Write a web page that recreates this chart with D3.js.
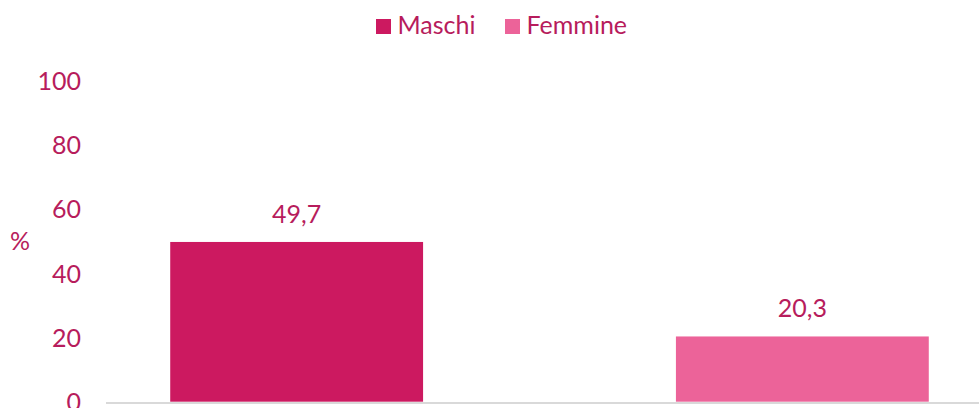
<!DOCTYPE html>
<html>
<head>
<meta charset="utf-8">
<script src="https://cdn.jsdelivr.net/npm/d3@7"></script>
<style>
  html, body { margin: 0; padding: 0; background: #ffffff; }
  svg { display: block; }
  text { font-family: Lato, "Open Sans", sans-serif; }
</style>
</head>
<body>
<svg id="chart" width="979" height="408"></svg>
<script>
const series = ["Maschi", "Femmine"];
const values = [49.7, 20.3];
const valueLabels = ["49,7", "20,3"];
const colors = ["#CC1960", "#EC6399"];
const yTicks = [0, 20, 40, 60, 80, 100];
const yTitle = "%";

const W = 979, H = 408;
const textColor = "#B71C5C";
const fontSize = 25;

const svg = d3.select("#chart");

const y = d3.scaleLinear().domain([0, 100]).range([401.7, 80.3]);
const x = d3.scaleBand().domain(series).range([106, 993])
  .paddingInner(0.5).paddingOuter(0.127);

// Y axis (labels only)
const yAxis = d3.axisLeft(y).tickValues(yTicks).tickSize(0).tickPadding(0)
  .tickFormat(d3.format("d"));
const gy = svg.append("g").attr("transform", "translate(81,0)").call(yAxis);
gy.select(".domain").remove();
gy.selectAll("text")
  .attr("fill", textColor)
  .attr("font-size", fontSize)
  .attr("font-family", "Lato, 'Open Sans', sans-serif")
  .attr("dy", "0.36em");

// y title
svg.append("text")
  .attr("x", 20).attr("y", y(49.7) + 8.5)
  .attr("text-anchor", "middle")
  .attr("fill", textColor)
  .attr("font-size", fontSize)
  .text(yTitle);

// bars
svg.append("g").selectAll("rect")
  .data(series)
  .join("rect")
  .attr("x", d => x(d))
  .attr("width", x.bandwidth())
  .attr("y", (d, i) => y(values[i]))
  .attr("height", (d, i) => y(0) - y(values[i]))
  .attr("fill", (d, i) => colors[i]);

// value labels
svg.append("g").selectAll("text")
  .data(series)
  .join("text")
  .attr("x", d => x(d) + x.bandwidth() / 2)
  .attr("y", (d, i) => y(values[i]) - 19)
  .attr("text-anchor", "middle")
  .attr("fill", textColor)
  .attr("font-size", fontSize)
  .text((d, i) => valueLabels[i]);

// x baseline
const gx = svg.append("g").attr("transform", `translate(0,${y(0) + 1.2})`)
  .call(d3.axisBottom(x).tickSize(0).tickFormat(""));
gx.select(".domain").attr("stroke", "#D9D9D9").attr("stroke-width", 2)
  .attr("d", `M106,0H993`);

// legend
const legendX = [376, 505];
const lg = svg.append("g").selectAll("g")
  .data(series)
  .join("g")
  .attr("transform", (d, i) => `translate(${legendX[i]},19)`);
lg.append("rect").attr("width", 15).attr("height", 15)
  .attr("fill", (d, i) => colors[i]);
lg.append("text").attr("x", 21.5).attr("y", 15)
  .attr("fill", textColor)
  .attr("font-size", fontSize)
  .text(d => d);
</script>
</body>
</html>
